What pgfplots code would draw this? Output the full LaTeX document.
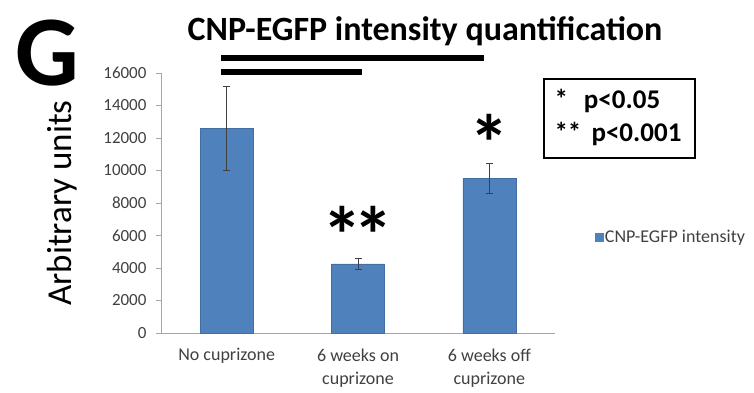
\documentclass[border=0pt]{standalone}
\usepackage{pgfplots}
\pgfplotsset{compat=1.18}
\usepackage{fontspec}
\setmainfont{Carlito}
\definecolor{barblue}{HTML}{4F81BD}
\definecolor{axgray}{HTML}{A6A6A6}
\definecolor{ticktext}{HTML}{404040}
\begin{document}
\begin{tikzpicture}[x=1pt,y=1pt]
\useasboundingbox (0,0) rectangle (754,392);
\begin{axis}[
  at={(161pt,59pt)}, anchor=south west,
  scale only axis, width=394pt, height=260pt,
  xmin=-0.5, xmax=2.5, ymin=0, ymax=16000,
  axis x line*=bottom, axis y line*=left,
  axis line style={axgray, line width=0.8pt},
  every tick/.style={axgray, line width=0.8pt},
  tick align=outside,
  ytick={0,2000,...,16000},
  scaled y ticks=false,
  /pgf/number format/fixed,
  /pgf/number format/1000 sep={},
  /pgf/number format/assume math mode=true,
  yticklabel style={font=\fontsize{17}{17}\selectfont, text=ticktext, xshift=-6pt},
  major tick length=5pt,
  xtick={0,1,2},
  xticklabels={No cuprizone, 6 weeks on\\cuprizone, 6 weeks off\\cuprizone},
  xticklabel style={font=\fontsize{18}{23}\selectfont, text=ticktext, align=center, yshift=-7pt},
  x tick style={draw=none},
  extra x ticks={-0.5,0.5,1.5,2.5},
  extra x tick labels={},
  extra x tick style={major tick length=6pt, tick style={axgray, line width=0.8pt}},
  ylabel={Arbitrary units},
  ylabel style={font=\fontsize{35}{35}\selectfont, at={(axis description cs:-0.205,0.5)}},
  legend style={at={(rel axis cs:1.10,0.37)}, anchor=west, draw=none, fill=none,
    font=\fontsize{18}{18}\selectfont, text=ticktext, legend cell align=left,
    inner sep=0pt},
  legend image code/.code={\fill[barblue] (0pt,-4pt) rectangle (8pt,4pt);},
  clip=false,
]
\addplot[ybar, bar width=53pt, fill=barblue, draw=barblue!85!black, line width=0.3pt,
  error bars/.cd, y dir=both, y explicit,
  error bar style={black!75, line width=0.6pt},
  error mark options={rotate=90, mark size=3.5pt, black!75, line width=0.6pt}]
  coordinates {(0,12600) +- (0,2600) (1,4250) +- (0,350) (2,9500) +- (0,920)};
\addlegendentry{CNP-EGFP intensity}
\draw[black, line width=6pt] (axis cs:-0.04,16950) -- (axis cs:1.96,16950);
\draw[black, line width=6pt] (axis cs:-0.04,16080) -- (axis cs:1.03,16080);
\node[font=\bfseries\fontsize{80}{80}\selectfont] at (axis cs:1,6030) {*\kern-9pt*};
\node[font=\bfseries\fontsize{80}{80}\selectfont] at (axis cs:2,11700) {*};
\end{axis}
\node[font=\bfseries\fontsize{34}{34}\selectfont] at (425,361) {CNP-EGFP intensity quantification};
\node[font=\bfseries\fontsize{100}{100}\selectfont, anchor=base west, inner sep=0pt] at (15,307) {G};
\node[draw=black, line width=1.6pt, minimum width=151pt, minimum height=79pt, anchor=north west, inner sep=0pt] at (543,314) {};
\node[font=\bfseries\fontsize{27}{33}\selectfont, anchor=west, align=left] at (551,275)
  {*\hspace{16pt}p<0.05\\**\hspace{4pt} p<0.001};
\end{tikzpicture}
\end{document}
